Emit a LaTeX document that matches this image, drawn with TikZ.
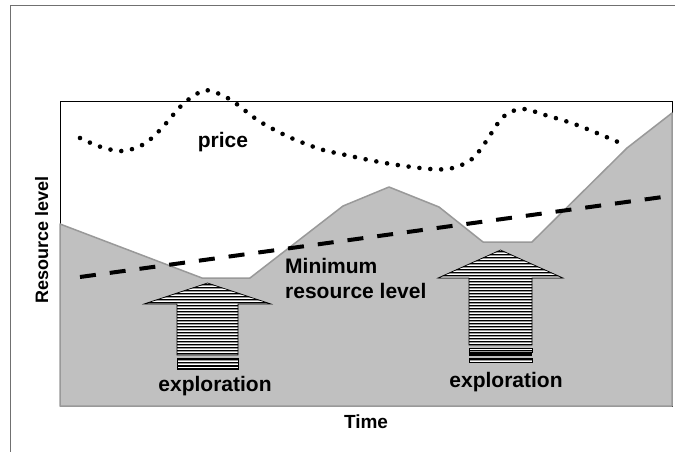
\documentclass[tikz,border=0pt]{standalone}
\usepackage{fontspec}
\setmainfont{Liberation Sans}
\definecolor{landgray}{HTML}{C0C0C0}
\definecolor{edgegray}{HTML}{999999}
\definecolor{framegray}{HTML}{707070}
\definecolor{stripegray}{HTML}{9A9A9A}
\begin{document}
\begin{tikzpicture}[x=1pt,y=-1pt,
  lbl/.style={font=\bfseries\fontsize{21}{25}\selectfont, inner sep=0pt},
  pricecurve/.style={line width=4.6pt, line cap=round, dash pattern=on 0pt off 10.9pt},
  minline/.style={line width=4pt, dash pattern=on 16pt off 14pt},
  land/.style={fill=landgray, draw=edgegray, line width=1.5pt, line join=round},
  arrowedge/.style={draw=black, line width=0.7pt}
]
\useasboundingbox (0,0) rectangle (675,452);
\clip (0,0) rectangle (675,452);
\fill[white] (0,0) rectangle (675,452);
% outer frame
\draw[framegray, line width=1.3pt] (10.5,5.5) rectangle (700,480);
% plot frame
\draw[black, line width=0.9pt] (60,101) rectangle (672,406);
% resource (land) profile
\path[land] (60,224) -- (202,278) -- (250,278) -- (343,206) -- (389,187) -- (439,207)
  -- (483,242) -- (532,242) -- (627,148) -- (672,113) -- (672,406) -- (60,406) -- cycle;
% minimum resource level
\coordinate (m1) at (80,277);
\coordinate (m2) at (670,196);
\draw[minline] (m1) -- (m2);
% price curve
\draw[pricecurve] plot[smooth, tension=0.55] coordinates {
  (80,138) (101,147) (123,151) (144,144) (161,129) (182,105) (200,92) (211,91)
  (231,100) (259,121) (289,137) (320,149) (341,154) (385,163) (430,169) (453,168)
  (472,159) (485,143) (503,117) (522,109) (545,115) (577,125) (618,142)};
% left exploration arrow
\begin{scope}
  \clip (207.5,283) -- (271,304) -- (238,304) -- (238,355) -- (177,355) -- (177,304) -- (144,304) -- cycle
        (177,358) rectangle (238,369);
  \fill[stripegray] (140,280) rectangle (275,372);
  \foreach \y in {283,286,...,370} {
    \draw[white, line width=1pt] (140,\y) -- (275,\y);
    \draw[black, line width=0.6pt] (140,\y+1.5) -- (275,\y+1.5);
  }
  \draw[black, line width=1.6pt] (170,366) -- (245,366);
  \draw[black, line width=1.6pt] (170,368.6) -- (245,368.6);
\end{scope}
\draw[arrowedge] (207.5,283) -- (271,304) -- (238,304) -- (238,355) -- (177,355) -- (177,304) -- (144,304) -- cycle;
\draw[arrowedge] (177,358) rectangle (238,369);
% right exploration arrow
\begin{scope}
  \clip (500.5,250) -- (563,278) -- (532,278) -- (532,345) -- (469,345) -- (469,278) -- (438,278) -- cycle
        (469,348) rectangle (532,352) (469,358) rectangle (532,362);
  \fill[stripegray] (435,247) rectangle (566,365);
  \foreach \y in {250,253,...,364} {
    \draw[white, line width=1pt] (435,\y) -- (566,\y);
    \draw[black, line width=0.6pt] (435,\y+1.5) -- (566,\y+1.5);
  }
\end{scope}
\draw[arrowedge] (500.5,250) -- (563,278) -- (532,278) -- (532,345) -- (469,345) -- (469,278) -- (438,278) -- cycle;
\draw[arrowedge] (469,348) rectangle (532,352);
\fill[black] (469,353) rectangle (532,356);
\draw[arrowedge] (469,358) rectangle (532,362);
% labels
\node[lbl, anchor=base] (price) at (223,147) {price};
\node[lbl, anchor=base west] (min1) at (285,273) {Minimum};
\node[lbl, anchor=base west] (min2) at (285,298) {resource level};
\node[lbl, anchor=base] (expl1) at (215,391) {exploration};
\node[lbl, anchor=base] (expl2) at (506,387) {exploration};
\node[inner sep=0pt, font=\bfseries\fontsize{19}{22}\selectfont, anchor=base] (time) at (366,428) {Time};
\node[inner sep=0pt, font=\bfseries\fontsize{18}{21}\selectfont, anchor=base, rotate=90] (rlev) at (48,240) {Resource level};
\end{tikzpicture}
\end{document}
